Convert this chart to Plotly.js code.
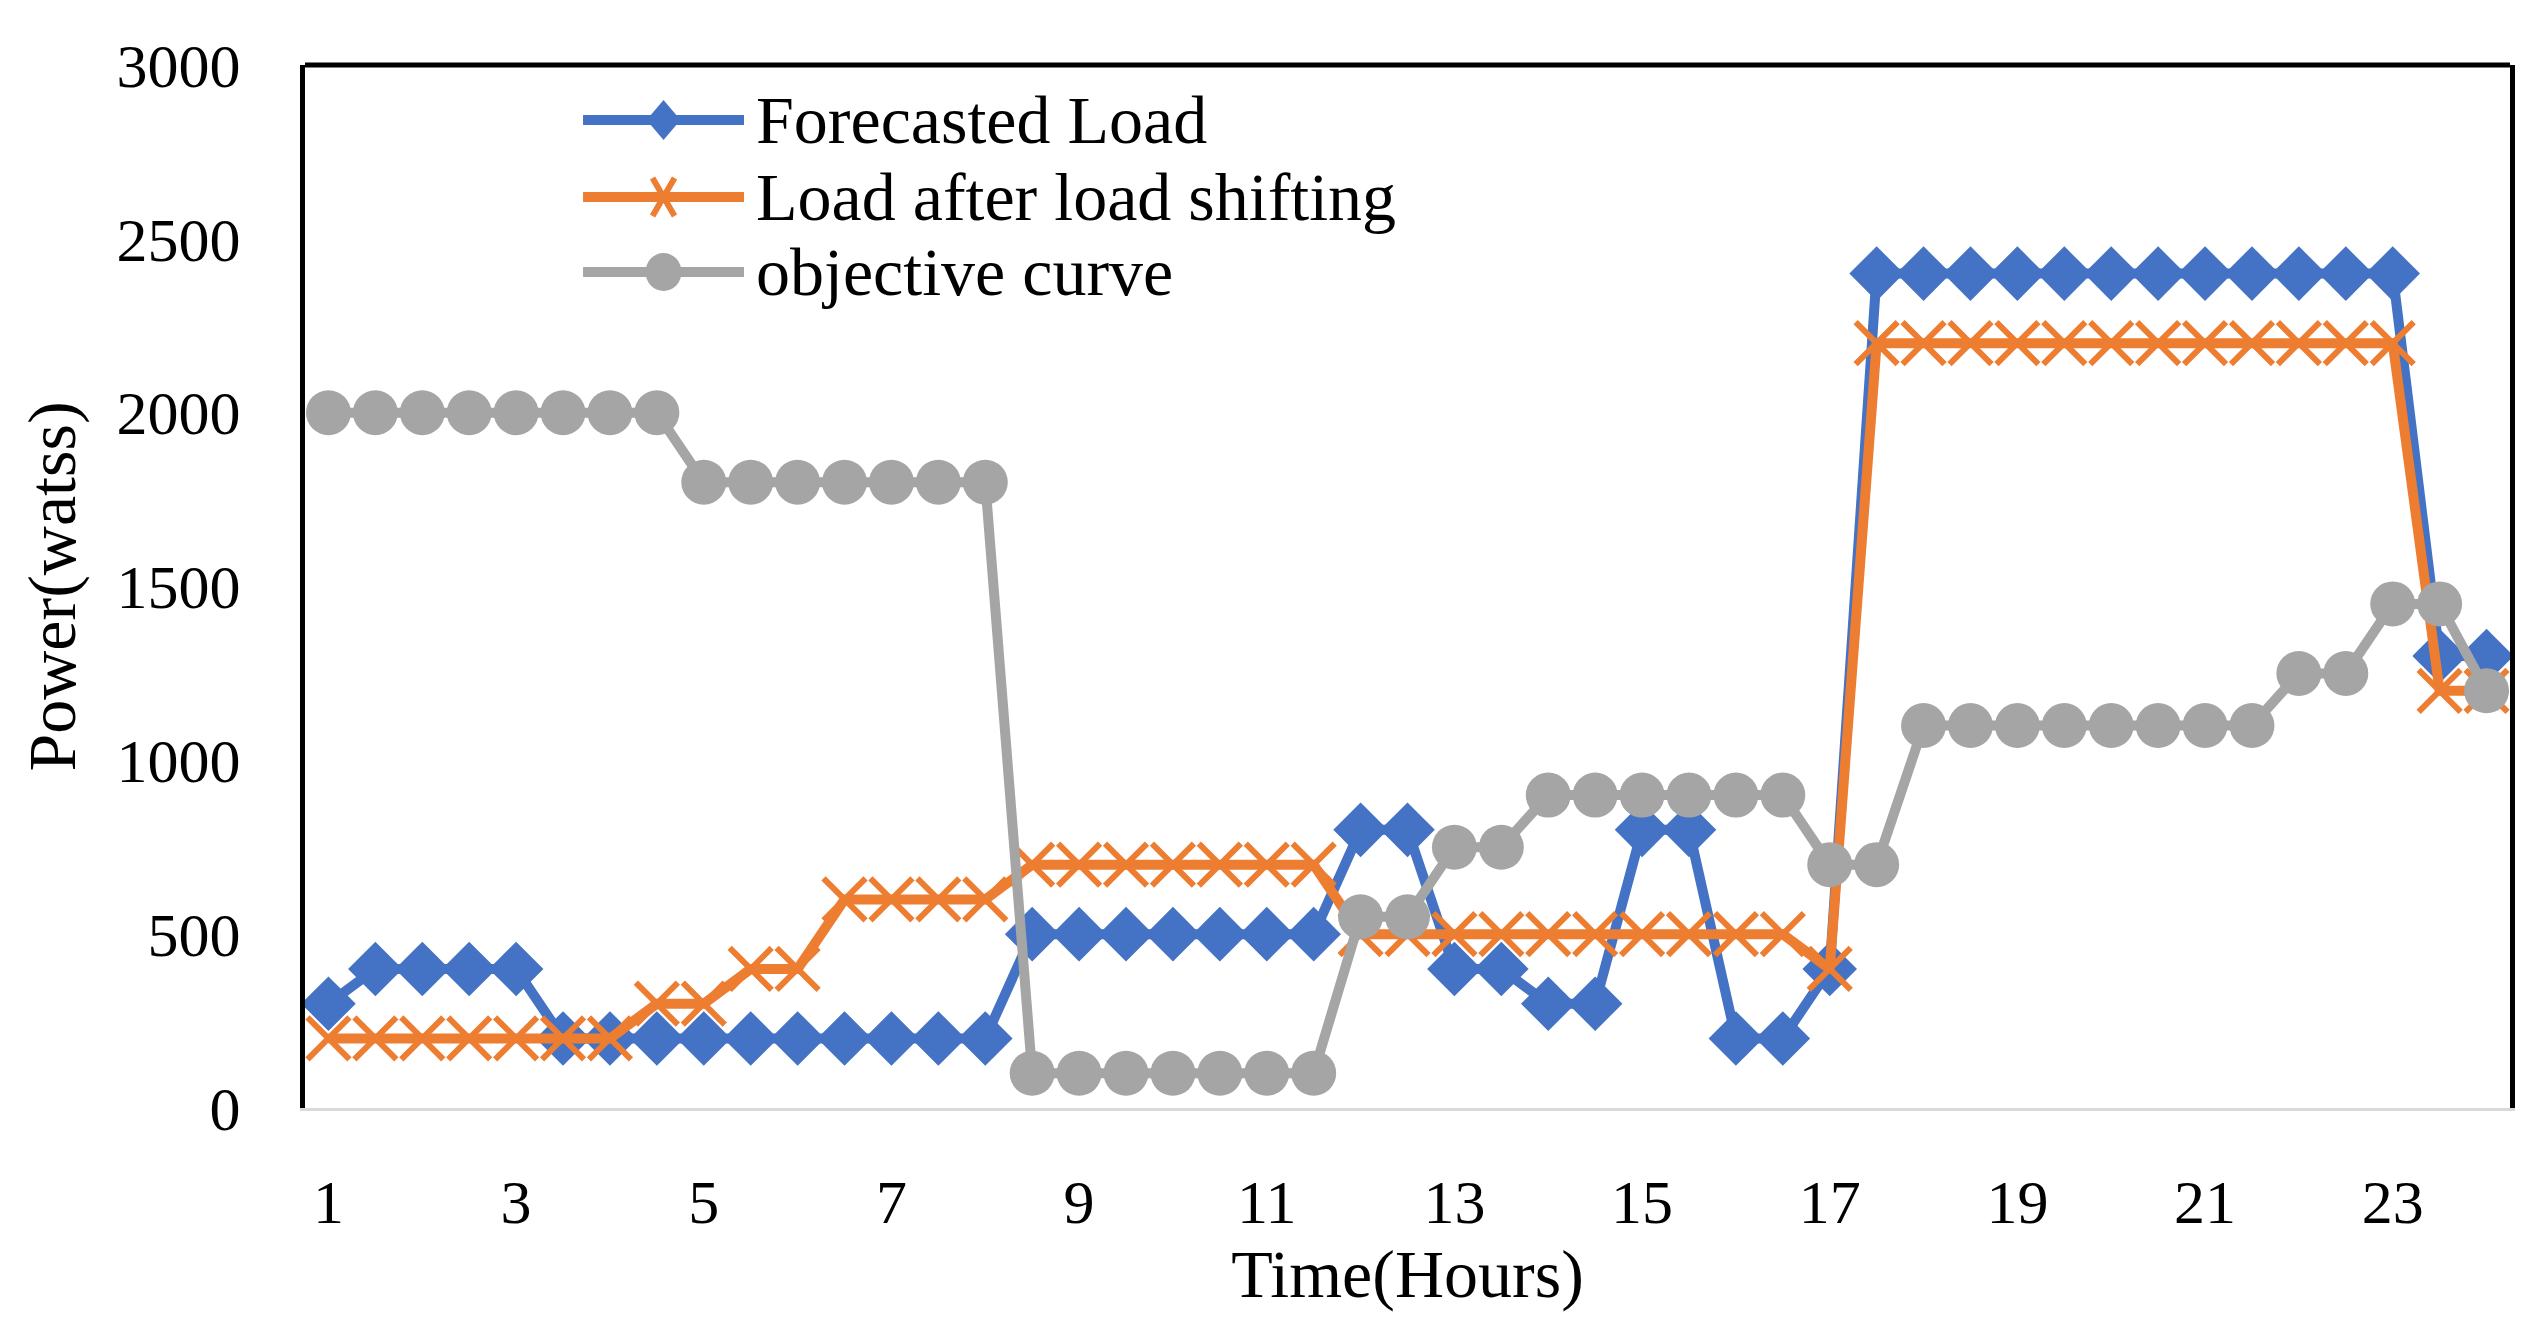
<!DOCTYPE html>
<html>
<head>
<meta charset="utf-8">
<script src="https://cdn.plot.ly/plotly-3.0.1.min.js"></script>
<style>html,body{margin:0;padding:0;background:#fff;}#chart{width:2547px;height:1344px;}</style>
</head>
<body>
<div id="chart"></div>
<script>
// Half-hour steps from hour 1 to hour 24
const hours = [1,1.5,2,2.5,3,3.5,4,4.5,5,5.5,6,6.5,7,7.5,8,8.5,9,9.5,10,10.5,11,11.5,12,12.5,13,13.5,14,14.5,15,15.5,16,16.5,17,17.5,18,18.5,19,19.5,20,20.5,21,21.5,22,22.5,23,23.5,24];

const forecastedLoad = [300,400,400,400,400,200,200,200,200,200,200,200,200,200,200,500,500,500,500,500,500,500,800,800,400,400,300,300,800,800,200,200,400,2400,2400,2400,2400,2400,2400,2400,2400,2400,2400,2400,2400,1300,1300];

const shiftedLoad = [200,200,200,200,200,200,200,300,300,400,400,600,600,600,600,700,700,700,700,700,700,700,500,500,500,500,500,500,500,500,500,500,400,2200,2200,2200,2200,2200,2200,2200,2200,2200,2200,2200,2200,1200,1200];

const objectiveCurve = [2000,2000,2000,2000,2000,2000,2000,2000,1800,1800,1800,1800,1800,1800,1800,100,100,100,100,100,100,100,550,550,750,750,900,900,900,900,900,900,700,700,1100,1100,1100,1100,1100,1100,1100,1100,1250,1250,1450,1450,1200];

const xTickVals = [1,3,5,7,9,11,13,15,17,19,21,23];
const yTickVals = [0,500,1000,1500,2000,2500,3000];
const seriesNames = ["Forecasted Load","Load after load shifting","objective curve"];
const seriesColors = ["#4472C4","#ED7D31","#A5A5A5"];

const FONT = "Liberation Serif, Times New Roman, serif";
const TEXT_SIZE = 68;
const TICK_SIZE = 62;

const traces = [
  {
    x: hours, y: forecastedLoad, name: seriesNames[0], type: "scatter", mode: "lines+markers",
    line: {color: seriesColors[0], width: 10},
    marker: {symbol: "diamond", size: 42, color: seriesColors[0]}
  },
  {
    x: hours, y: shiftedLoad, name: seriesNames[1], type: "scatter", mode: "lines+markers",
    line: {color: seriesColors[1], width: 10},
    marker: {symbol: "x-thin-open", size: 42, color: seriesColors[1], line: {color: seriesColors[1], width: 6}}
  },
  {
    x: hours, y: objectiveCurve, name: seriesNames[2], type: "scatter", mode: "lines+markers",
    line: {color: seriesColors[2], width: 10},
    marker: {symbol: "circle", size: 45, color: seriesColors[2]}
  }
];

// Hand-built legend (inside plot area, top-left)
const legendRowsY = [0.9473, 0.8734, 0.8015];
const legendLineX = [0.1261, 0.1991];
const legendMarkX = 0.1626;
const legendTextX = 0.2035;

const shapes = [
  {type: "line", xref: "paper", yref: "paper", x0: 0, x1: 1, y0: 1, y1: 1, line: {color: "#000", width: 5}}
];
const annotations = [];
seriesNames.forEach((name, i) => {
  const yy = legendRowsY[i];
  shapes.push({type: "line", xref: "paper", yref: "paper", x0: legendLineX[0], x1: legendLineX[1], y0: yy, y1: yy,
               line: {color: seriesColors[i], width: 10}});
  const base = {xref: "paper", yref: "paper", xsizemode: "pixel", ysizemode: "pixel", xanchor: legendMarkX, yanchor: yy};
  if (i === 0) {
    shapes.push(Object.assign({}, base, {type: "path", path: "M0,-20 L17,0 L0,20 L-17,0 Z",
      fillcolor: seriesColors[i], line: {color: seriesColors[i], width: 0}}));
  } else if (i === 1) {
    shapes.push(Object.assign({}, base, {type: "path", path: "M-11,-19 L11,19 M-11,19 L11,-19",
      line: {color: seriesColors[i], width: 6}}));
  } else {
    shapes.push(Object.assign({}, base, {type: "circle", x0: -18, x1: 18, y0: -19, y1: 19,
      fillcolor: seriesColors[i], line: {color: seriesColors[i], width: 0}}));
  }
  annotations.push({xref: "paper", yref: "paper", x: legendTextX, y: yy, xanchor: "left", yanchor: "middle",
    text: name, showarrow: false, font: {family: FONT, size: TEXT_SIZE, color: "#000"}});
});

const layout = {
  width: 2547, height: 1344,
  margin: {l: 305, r: 37, t: 65, b: 236},
  paper_bgcolor: "#fff", plot_bgcolor: "#fff",
  font: {family: FONT, size: TICK_SIZE, color: "#000"},
  showlegend: false,
  xaxis: {
    range: [0.75, 24.25], tickmode: "array", tickvals: xTickVals, ticktext: xTickVals.map(String),
    showgrid: false, zeroline: false, showline: true, linecolor: "#D9D9D9", linewidth: 3,
    ticks: "", ticklabelstandoff: 38,
    tickfont: {family: FONT, size: TICK_SIZE, color: "#000"},
    title: {text: "Time(Hours)", font: {family: FONT, size: TEXT_SIZE, color: "#000"}, standoff: 0}
  },
  yaxis: {
    range: [0, 3000], tickmode: "array", tickvals: yTickVals, ticktext: yTickVals.map(String),
    showgrid: false, zeroline: false, showline: true, linecolor: "#000", linewidth: 5, mirror: true,
    ticks: "", ticklabelstandoff: 47,
    tickfont: {family: FONT, size: TICK_SIZE, color: "#000"},
    title: {text: "Power(watss)", font: {family: FONT, size: TEXT_SIZE, color: "#000"}, standoff: 20}
  },
  shapes: shapes,
  annotations: annotations
};

Plotly.newPlot("chart", traces, layout, {displayModeBar: false, staticPlot: true});
</script>
</body>
</html>
